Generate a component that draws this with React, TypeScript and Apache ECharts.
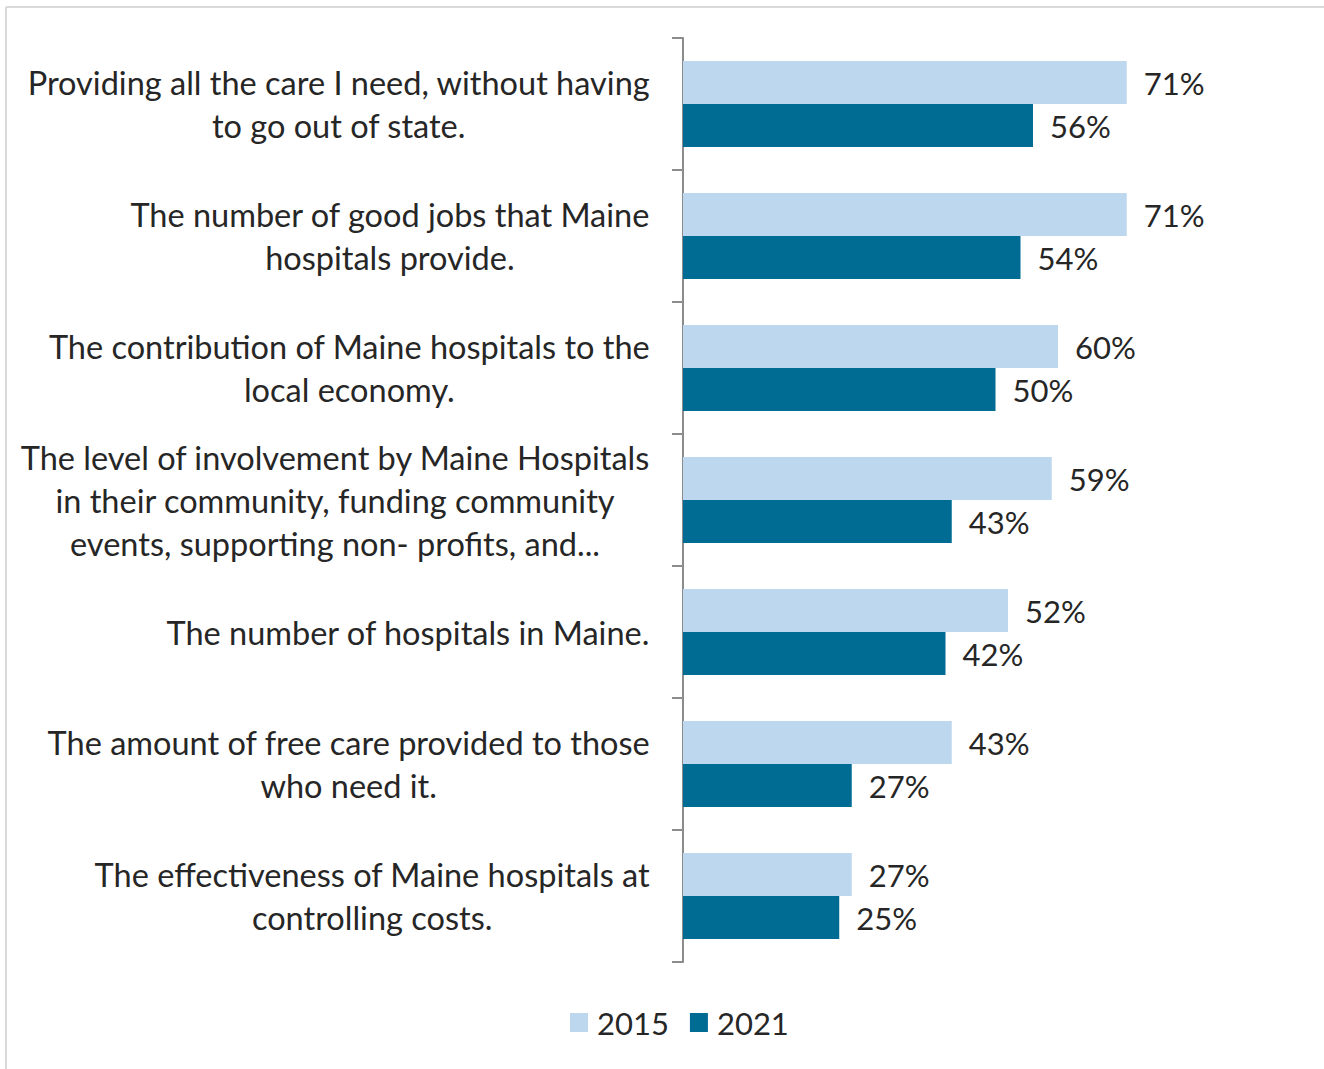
import React, { useEffect, useRef } from "react";
import * as echarts from "echarts";

const categories = [
  "Providing all the care I need, without having\nto go out of state.",
  "The number of good jobs that Maine\nhospitals provide.",
  "The contribution of Maine hospitals to the\nlocal economy.",
  "The level of involvement by Maine Hospitals\nin their community, funding community\nevents, supporting non- profits, and...",
  "The number of hospitals in Maine.",
  "The amount of free care provided to those\nwho need it.",
  "The effectiveness of Maine hospitals at\ncontrolling costs.",
];
const values2015 = [71, 71, 60, 59, 52, 43, 27];
const values2021 = [56, 54, 50, 43, 42, 27, 25];
const seriesNames = ["2015", "2021"];

const FONT = "Lato, 'Noto Sans', sans-serif";
const FS = 31;
const CAT_FS = 32.5;
const TEXT = "#262626";

export default function App() {
  const ref = useRef<HTMLDivElement>(null);
  useEffect(() => {
    if (!ref.current) return;
    const chart = echarts.init(ref.current, undefined, { renderer: "svg" });
    chart.setOption({
      animation: false,
      backgroundColor: "#ffffff",
      textStyle: { fontFamily: FONT },
      graphic: [
        { type: "line", shape: { x1: 6, y1: 7, x2: 1324, y2: 7 }, style: { stroke: "#d9d9d9", lineWidth: 2 } },
        { type: "line", shape: { x1: 6, y1: 7, x2: 6, y2: 1069 }, style: { stroke: "#d9d9d9", lineWidth: 2 } },
      ],
      legend: {
        data: seriesNames,
        left: 565,
        top: 1002,
        itemWidth: 18,
        itemHeight: 19,
        itemGap: 21,
        icon: "rect",
        textStyle: { fontFamily: FONT, fontSize: FS, color: TEXT, padding: [0, 0, 0, 4] },
      },
      grid: { left: 683, top: 38, width: 625, height: 924, containLabel: false },
      xAxis: {
        type: "value",
        min: 0,
        max: 100,
        show: false,
      },
      yAxis: {
        type: "category",
        inverse: true,
        data: categories,
        axisLine: { show: true, lineStyle: { color: "#8c8c8c", width: 2 } },
        axisTick: { show: true, length: 11, lineStyle: { color: "#8c8c8c", width: 2 } },
        splitLine: { show: false },
        axisLabel: {
          margin: 33,
          align: "right",
          color: TEXT,
          fontFamily: FONT,
          fontSize: CAT_FS,
          lineHeight: 43,
          formatter: (v: string) =>
            v
              .split("\n")
              .map((l) => "{c|" + l + "}")
              .join("\n"),
          rich: {
            c: { align: "center", fontFamily: FONT, fontSize: CAT_FS, color: TEXT, lineHeight: 43 },
          },
        },
      },
      series: [
        {
          name: seriesNames[0],
          type: "bar",
          data: values2015,
          barWidth: 43,
          barGap: "0%",
          itemStyle: { color: "#BDD7EE" },
          label: {
            show: true,
            position: "right",
            distance: 17,
            formatter: "{c}%",
            color: TEXT,
            fontFamily: FONT,
            fontSize: FS,
          },
        },
        {
          name: seriesNames[1],
          type: "bar",
          data: values2021,
          barWidth: 43,
          barGap: "0%",
          itemStyle: { color: "#006C94" },
          label: {
            show: true,
            position: "right",
            distance: 17,
            formatter: "{c}%",
            color: TEXT,
            fontFamily: FONT,
            fontSize: FS,
          },
        },
      ],
    });
    return () => chart.dispose();
  }, []);
  return (
    <div
      ref={ref}
      style={{ position: "fixed", left: 0, top: 0, width: 1324, height: 1069, background: "#fff" }}
    />
  );
}
